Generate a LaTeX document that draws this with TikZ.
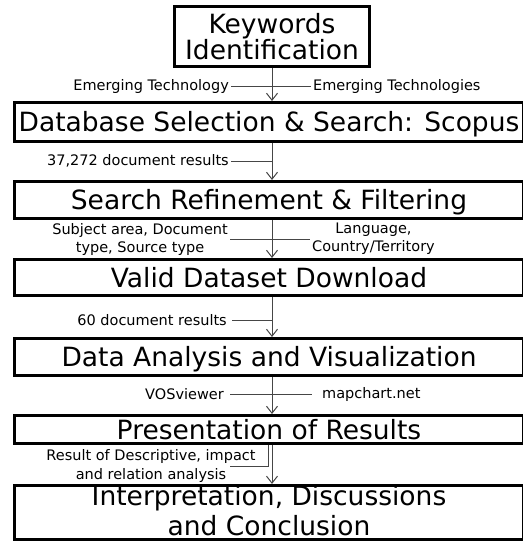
\documentclass[tikz,border=0pt]{standalone}
\usepackage{fontspec}
\setmainfont{DejaVu Sans}
\usetikzlibrary{arrows.meta,positioning}
\definecolor{linkcol}{RGB}{70,70,70}

\begin{document}
\begin{tikzpicture}[x=1pt,y=-1pt,
   stage/.style={draw=black,line width=3pt,inner sep=0pt,minimum width=509pt,
      align=center,font=\fontsize{26.5}{24}\selectfont},
   oneline/.style={text height=19pt,text depth=0pt},
   lbl/.style={inner sep=2pt,align=center,font=\fontsize{14.5}{18}\selectfont},
   flow/.style={linkcol,line width=1pt,-{Straight Barb[length=7pt,width=11pt]}},
   link/.style={linkcol,line width=0.8pt}]
  \useasboundingbox (0,0) rectangle (523,542);
  % ---------- stages ----------
  \node[stage,minimum width=195pt,minimum height=60pt] (kw) at (272,36.5) {Keywords\\Identification};
  \node[stage,oneline,minimum height=39pt] (db) at (269,122) {Database Selection \& Search: Scopus};
  \node[stage,oneline,minimum height=37pt] (sr) at (269,200) {Search Refinement \& Filtering};
  \node[stage,oneline,minimum height=36pt] (vd) at (269,277.5) {Valid Dataset Download};
  \node[stage,oneline,minimum height=37pt] (da) at (269,357) {Data Analysis and Visualization};
  \node[stage,oneline,minimum height=28pt] (pr) at (269,429.5) {Presentation of Results};
  \node[stage,minimum height=54pt,font=\fontsize{26.5}{30}\selectfont,text depth=4pt] (ic) at (269,512.5)
    {Interpretation, Discussions\\and Conclusion};
  % ---------- flow arrows ----------
  \foreach \a/\b in {kw/db,db/sr,sr/vd,vd/da,da/pr,pr/ic}
    \draw[flow] (\a.south -| kw.south) -- (\b.north -| kw.south);
  % ---------- side notes ----------
  \node[lbl,anchor=east] (et1) at (231,86) {Emerging Technology};
  \node[lbl,anchor=west] (et2) at (311,86) {Emerging Technologies};
  \draw[link] (et1.east) -- (et2.west);
  \node[lbl,anchor=east] (n37) at (231,161) {37,272 document results};
  \draw[link] (n37.east) -- (n37.east -| kw.south);
  \node[lbl,anchor=east] (subj) at (230,239) {Subject area, Document\\type, Source type};
  \node[lbl,anchor=west] (lang) at (310,239) {Language,\\Country/Territory};
  \draw[link] (subj.east) -- (lang.west);
  \node[lbl,anchor=east,inner xsep=5pt] (n60) at (232,320) {60 document results};
  \draw[link] (n60.east) -- (n60.east -| kw.south);
  \node[lbl,anchor=east,inner xsep=6pt] (vos) at (230,394) {VOSviewer};
  \node[lbl,anchor=west,inner xsep=10pt] (map) at (312,394) {mapchart.net};
  \draw[link] (vos.east) -- (map.west);
  \node[lbl,font=\fontsize{14.5}{19}\selectfont] (res) at (151,466) {Result of Descriptive, impact\\and relation analysis};
  \coordinate (resl) at (230,466);
  \coordinate (restick) at (268,466);
  \draw[link] (resl) -- (restick) -- (restick |- pr.south);
\end{tikzpicture}
\end{document}
